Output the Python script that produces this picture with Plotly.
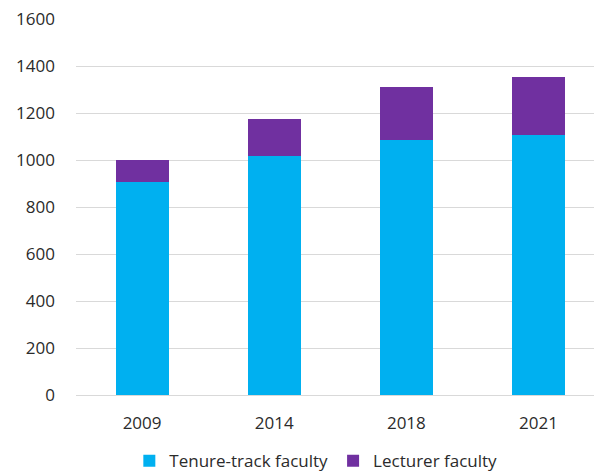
import plotly.graph_objects as go

years = ["2009", "2014", "2018", "2021"]
tenure_track = [907, 1017, 1085, 1105]
lecturer = [93, 159, 227, 247]
y_ticks = [0, 200, 400, 600, 800, 1000, 1200, 1400, 1600]

FONT = "Open Sans"
TXT = "#2b2b2b"
fig = go.Figure()
fig.add_trace(go.Bar(x=years, y=tenure_track, name="Tenure-track faculty",
                     marker=dict(color="#00b0f0", line=dict(width=0)), width=0.4))
fig.add_trace(go.Bar(x=years, y=lecturer, name="Lecturer faculty",
                     marker=dict(color="#7030a0", line=dict(width=0)), width=0.4))

fig.update_layout(
    barmode="stack",
    width=594, height=476,
    margin=dict(l=76, r=0, t=19, b=81, autoexpand=False),
    plot_bgcolor="white", paper_bgcolor="white",
    font=dict(family=FONT, size=17, color=TXT),
    legend=dict(orientation="h", x=0.463, xanchor="center", y=-0.176, yanchor="middle",
                font=dict(size=17, color=TXT), itemwidth=30, traceorder="normal",
                tracegroupgap=0),
    xaxis=dict(type="category", range=[-0.5, 3.42], showgrid=False, showline=False,
               ticks="", ticklabelstandoff=16, tickfont=dict(size=17, color=TXT)),
    yaxis=dict(range=[0, 1600], tickvals=y_ticks, showgrid=True, gridcolor="#d9d9d9",
               gridwidth=1, zeroline=True, zerolinecolor="#d9d9d9", zerolinewidth=1,
               showline=False, ticks="", ticklabelstandoff=20, tickfont=dict(size=17, color=TXT)),
)
fig.write_html("out.html", config={"displayModeBar": False},
               post_script="document.body.style.margin='0';document.body.style.overflow='hidden';")
